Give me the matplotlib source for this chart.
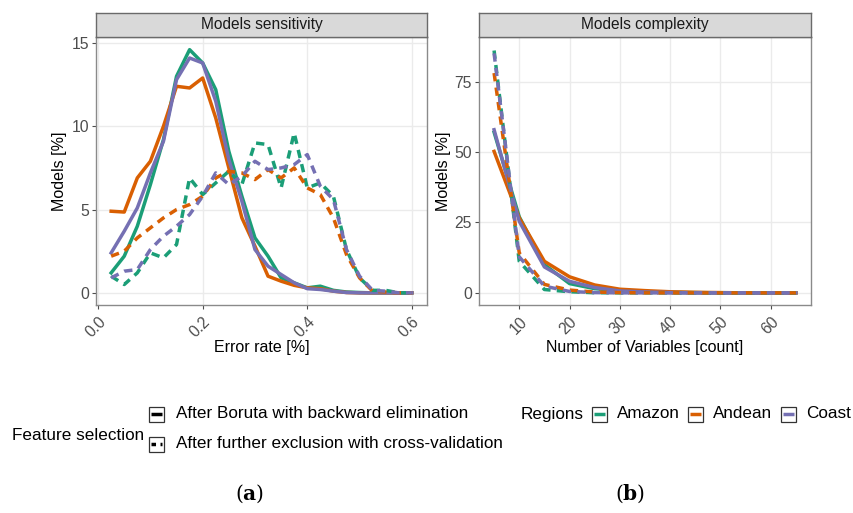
import numpy as np
import matplotlib
matplotlib.use("Agg")
import matplotlib.pyplot as plt
from matplotlib.patches import Rectangle
from matplotlib.lines import Line2D

plt.rcParams['font.family'] = ['Liberation Sans', 'DejaVu Sans']
plt.rcParams['mathtext.fontset'] = 'dejavuserif'

# ---------------- data ----------------
regions = ["Amazon", "Andean", "Coast"]
colors = {"Amazon": "#1B9E77", "Andean": "#D95F02", "Coast": "#7570B3"}
selection = ["After Boruta with backward elimination",
             "After further exclusion with cross-validation"]

error_rate = [0.025, 0.05, 0.075, 0.1, 0.125, 0.15, 0.175, 0.2, 0.225, 0.25, 0.275, 0.3,
              0.325, 0.35, 0.375, 0.4, 0.425, 0.45, 0.475, 0.5, 0.525, 0.55, 0.575, 0.6]

sens_boruta = {
    "Amazon": [1.2, 2.2, 4.0, 6.5, 9.2, 13.0, 14.6, 13.8, 12.2, 8.5, 5.8, 3.3,
               2.2, 0.9, 0.6, 0.3, 0.4, 0.15, 0.05, 0.02, 0, 0, 0, 0],
    "Andean": [4.9, 4.85, 6.9, 7.9, 10.0, 12.4, 12.3, 12.9, 10.5, 7.5, 4.5, 2.8,
               1.0, 0.7, 0.45, 0.3, 0.25, 0.1, 0.02, 0, 0, 0, 0, 0],
    "Coast":  [2.4, 3.7, 5.1, 7.2, 9.1, 12.8, 14.1, 13.8, 11.5, 8.0, 5.5, 2.6,
               1.6, 1.1, 0.6, 0.25, 0.2, 0.1, 0.02, 0, 0, 0, 0, 0],
}
sens_cv = {
    "Amazon": [1.0, 0.5, 1.2, 2.4, 2.1, 2.9, 6.9, 5.9, 6.6, 7.3, 6.5, 9.0,
               8.9, 6.3, 9.6, 6.3, 6.6, 5.8, 2.6, 0.9, 0.15, 0.15, 0, 0],
    "Andean": [2.2, 2.5, 3.3, 3.9, 4.5, 5.0, 5.3, 5.8, 6.9, 7.3, 7.2, 6.8,
               7.4, 6.9, 7.5, 6.3, 5.9, 4.5, 2.3, 0.9, 0.1, 0.05, 0, 0],
    "Coast":  [0.9, 1.3, 1.4, 2.6, 3.4, 4.0, 4.7, 5.8, 7.2, 6.5, 7.0, 7.9,
               7.4, 7.5, 7.7, 8.3, 6.4, 5.6, 2.6, 1.0, 0.15, 0.1, 0, 0],
}

n_vars = [5, 10, 15, 20, 25, 30, 35, 40, 45, 50, 55, 60, 65]
cx_boruta = {
    "Amazon": [57.0, 27.0, 10.0, 3.3, 1.5, 0.8, 0.4, 0.2, 0.1, 0, 0, 0, 0],
    "Andean": [50.2, 26.6, 11.2, 5.7, 2.8, 1.3, 0.8, 0.4, 0.2, 0.1, 0, 0, 0],
    "Coast":  [57.9, 25.4, 9.2, 4.1, 1.9, 0.7, 0.3, 0.1, 0, 0, 0, 0, 0],
}
cx_cv = {
    "Amazon": [86.0, 11.2, 1.2, 0.4, 0.05, 0, 0, 0, 0, 0, 0, 0, 0],
    "Andean": [78.0, 14.2, 3.0, 1.0, 0.3, 0.1, 0, 0, 0, 0, 0, 0, 0],
    "Coast":  [85.0, 12.8, 2.4, 0.5, 0.1, 0, 0, 0, 0, 0, 0, 0, 0],
}

# ---------------- figure ----------------
W, H = 854, 513
fig = plt.figure(figsize=(W / 100, H / 100), dpi=100)

def fx(px):
    return px / W

def fy(py):
    return 1 - py / H

LW = 2.5
DASH = (2.4, 1.8)
GRID = "#EBEBEB"
BORDER = "#8A8A8A"
TICKC = "#4D4D4D"

def make_panel(left, right, top, bottom, title):
    ax = fig.add_axes([fx(left), fy(bottom), fx(right - left), (bottom - top) / H])
    sax = fig.add_axes([fx(left), fy(top), fx(right - left), 24 / H])
    sax.set_facecolor("#D9D9D9")
    sax.set_xticks([]); sax.set_yticks([])
    for s in sax.spines.values():
        s.set_color("#6A6A6A"); s.set_linewidth(1.0)
    sax.text(0.5, 0.5, title, ha="center", va="center", fontsize=11.2, color="#1A1A1A",
             transform=sax.transAxes)
    ax.set_facecolor("white")
    for s in ax.spines.values():
        s.set_color(BORDER); s.set_linewidth(1.0)
    ax.grid(True, color=GRID, linewidth=1.0)
    ax.set_axisbelow(True)
    ax.tick_params(axis="both", colors=TICKC, labelsize=11.3, length=3, width=0.8,
                   labelcolor=TICKC)
    ax.tick_params(axis="y", pad=2)
    return ax

ax1 = make_panel(96, 427, 37, 305, "Models sensitivity")
ax2 = make_panel(479, 811, 37, 305, "Models complexity")

for r in regions:
    ax1.plot(error_rate, sens_boruta[r], color=colors[r], lw=LW, solid_joinstyle="round")
for r in regions:
    ax1.plot(error_rate, sens_cv[r], color=colors[r], lw=LW, linestyle=(0, DASH))
for r in regions:
    ax2.plot(n_vars, cx_boruta[r], color=colors[r], lw=LW, solid_joinstyle="round")
for r in regions:
    ax2.plot(n_vars, cx_cv[r], color=colors[r], lw=LW, linestyle=(0, DASH))

ax1.set_xlim(-0.004, 0.629)
ax1.set_ylim(-0.73, 15.36)
ax1.set_xticks([0.0, 0.2, 0.4, 0.6])
ax1.set_xticklabels(["0.0", "0.2", "0.4", "0.6"])
ax1.set_yticks([0, 5, 10, 15])

ax2.set_xlim(2.0, 68.0)
ax2.set_ylim(-4.3, 90.8)
ax2.set_xticks([10, 20, 30, 40, 50, 60])
ax2.set_yticks([0, 25, 50, 75])

for ax in (ax1, ax2):
    for lab in ax.get_xticklabels():
        lab.set_rotation(45)
        lab.set_ha("right")
        lab.set_va("top")
        lab.set_rotation_mode("anchor")
    ax.set_ylabel("Models [%]", fontsize=11.5, color="black")

ax1.yaxis.set_label_coords(-0.088, 0.5)
ax2.yaxis.set_label_coords(-0.084, 0.5)
ax1.set_xlabel("Error rate [%]", fontsize=11.5, color="black")
ax2.set_xlabel("Number of Variables [count]", fontsize=11.5, color="black")
ax1.xaxis.set_label_coords(0.5, -0.132)
ax2.xaxis.set_label_coords(0.5, -0.13)

# ---------------- legends ----------------
LFS = 12.3

def key_box(x0, yc, color, dashed=False):
    size = 15
    rect = Rectangle((fx(x0), fy(yc + size / 2)), size / W, size / H,
                     transform=fig.transFigure, facecolor="white",
                     edgecolor="#333333", linewidth=0.9)
    fig.add_artist(rect)
    ls = (0, (1.3, 1.3)) if dashed else "-"
    ln = Line2D([fx(x0 + 2), fx(x0 + size - 2)], [fy(yc), fy(yc)],
                transform=fig.transFigure, color=color, lw=LW, linestyle=ls,
                solid_capstyle="butt", dash_capstyle="butt")
    fig.add_artist(ln)

fig.text(fx(12), fy(435), "Feature selection", ha="left", va="center", fontsize=LFS)
key_box(149, 414, "black")
key_box(149, 444, "black", dashed=True)
fig.text(fx(176), fy(414), selection[0], ha="left", va="center", fontsize=LFS)
fig.text(fx(176), fy(444), selection[1], ha="left", va="center", fontsize=LFS)

fig.text(fx(521), fy(414), "Regions", ha="left", va="center", fontsize=LFS)
key_pos = {"Amazon": 592, "Andean": 688, "Coast": 781}
for r in regions:
    key_box(key_pos[r], 414, colors[r])
    fig.text(fx(key_pos[r] + 25), fy(414), r, ha="left", va="center", fontsize=LFS)

fig.text(fx(250), fy(494), r"($\mathbf{a}$)", ha="center", va="center", fontsize=14.5,
         family="DejaVu Serif")
fig.text(fx(630), fy(494), r"($\mathbf{b}$)", ha="center", va="center", fontsize=14.5,
         family="DejaVu Serif")

fig.savefig("out.png", dpi=100, facecolor="white")
